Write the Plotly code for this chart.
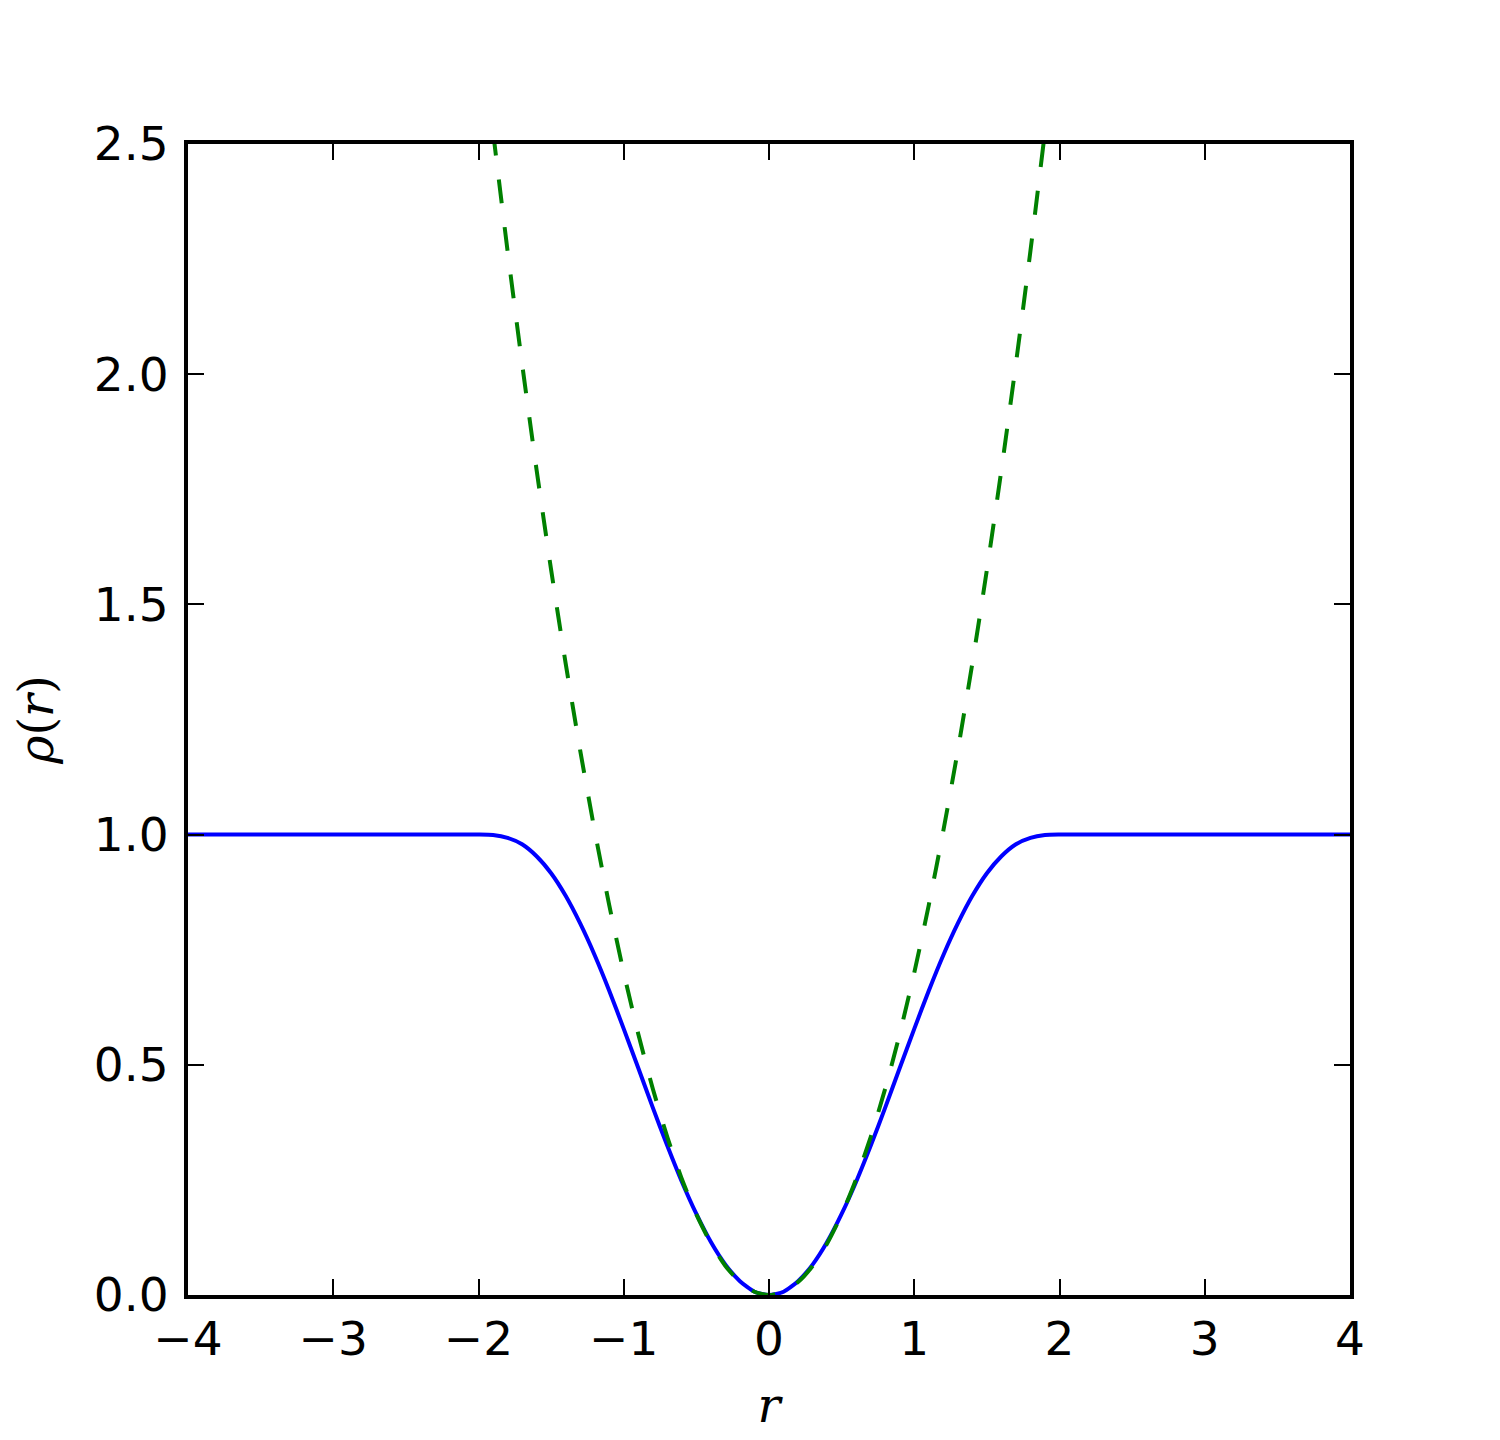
import plotly.graph_objects as go

# Blue curve: rho(r)
r_blue = [-4.0, -3.5, -3.0, -2.5, -2.0, -1.9, -1.8, -1.7, -1.6, -1.5, -1.4, -1.3, -1.2, -1.1, -1.0,
          -0.9, -0.8, -0.7, -0.6, -0.5, -0.4, -0.3, -0.2, -0.1, 0.0,
          0.1, 0.2, 0.3, 0.4, 0.5, 0.6, 0.7, 0.8, 0.9, 1.0,
          1.1, 1.2, 1.3, 1.4, 1.5, 1.6, 1.7, 1.8, 1.9, 2.0, 2.5, 3.0, 3.5, 4.0]
rho_blue = [1.0, 1.0, 1.0, 1.0, 1.0, 0.999, 0.993, 0.979, 0.953, 0.916, 0.867, 0.807, 0.738, 0.661, 0.578,
            0.493, 0.407, 0.324, 0.246, 0.176, 0.115, 0.066, 0.030, 0.007, 0.0,
            0.007, 0.030, 0.066, 0.115, 0.176, 0.246, 0.324, 0.407, 0.493, 0.578,
            0.661, 0.738, 0.807, 0.867, 0.916, 0.953, 0.979, 0.993, 0.999, 1.0, 1.0, 1.0, 1.0, 1.0]

# Green dashed curve (quadratic approximation)
r_green = [-1.9, -1.8, -1.7, -1.6, -1.5, -1.4, -1.3, -1.2, -1.1, -1.0,
           -0.9, -0.8, -0.7, -0.6, -0.5, -0.4, -0.3, -0.2, -0.1, 0.0,
           0.1, 0.2, 0.3, 0.4, 0.5, 0.6, 0.7, 0.8, 0.9, 1.0,
           1.1, 1.2, 1.3, 1.4, 1.5, 1.6, 1.7, 1.8, 1.9]
rho_green = [2.527, 2.268, 2.023, 1.792, 1.575, 1.372, 1.183, 1.008, 0.847, 0.700,
             0.567, 0.448, 0.343, 0.252, 0.175, 0.112, 0.063, 0.028, 0.007, 0.0,
             0.007, 0.028, 0.063, 0.112, 0.175, 0.252, 0.343, 0.448, 0.567, 0.700,
             0.847, 1.008, 1.183, 1.372, 1.575, 1.792, 2.023, 2.268, 2.527]

x_ticks = [-4, -3, -2, -1, 0, 1, 2, 3, 4]
x_ticktext = ["\u22124", "\u22123", "\u22122", "\u22121", "0", "1", "2", "3", "4"]
y_ticks = [0.0, 0.5, 1.0, 1.5, 2.0, 2.5]
y_ticktext = ["0.0", "0.5", "1.0", "1.5", "2.0", "2.5"]

fig = go.Figure()
fig.add_trace(go.Scatter(x=r_blue, y=rho_blue, mode="lines",
                         line=dict(color="#0000ff", width=4, shape="spline", smoothing=0.6),
                         showlegend=False, hoverinfo="skip"))
fig.add_trace(go.Scatter(x=r_green, y=rho_green, mode="lines",
                         line=dict(color="#008000", width=4, dash="24px,24px", shape="spline", smoothing=0.6),
                         showlegend=False, hoverinfo="skip"))

axis_common = dict(showline=True, linecolor="black", linewidth=4, mirror="allticks",
                   ticks="inside", ticklen=16, tickwidth=2, tickcolor="black",
                   showgrid=False, zeroline=False,
                   tickfont=dict(family="DejaVu Sans", size=47, color="black"))

fig.update_xaxes(range=[-4, 4], tickvals=x_ticks, ticktext=x_ticktext,
                 title=dict(text="<i>r</i>", font=dict(family="DejaVu Serif", size=48, color="black"),
                            standoff=24),
                 ticklabelstandoff=0, **axis_common)
fig.update_yaxes(range=[0, 2.5], tickvals=y_ticks, ticktext=y_ticktext,
                 title=dict(text="<i>ρ</i>(<i>r</i>)", font=dict(family="DejaVu Serif", size=48, color="black"),
                            standoff=31),
                 ticklabelstandoff=6, **axis_common)

fig.update_layout(width=1500, height=1440,
                  margin=dict(l=180, r=158, t=136, b=153, autoexpand=False),
                  plot_bgcolor="white", paper_bgcolor="white")

fig.write_html("out.html")
